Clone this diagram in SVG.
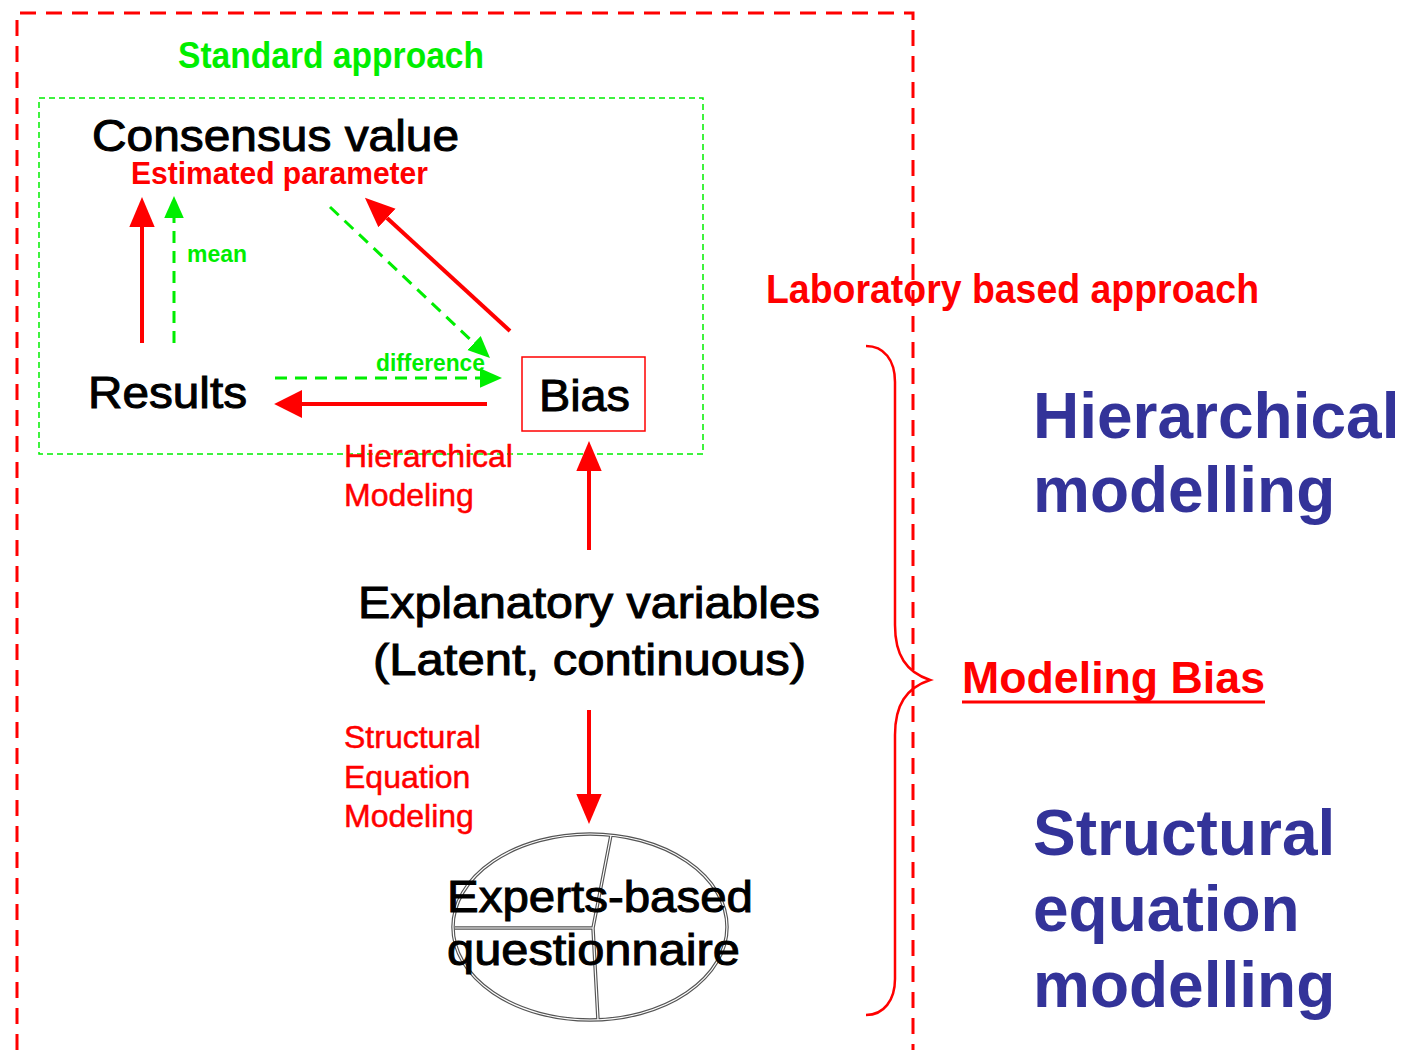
<svg xmlns="http://www.w3.org/2000/svg" width="1405" height="1050" viewBox="0 0 1405 1050">
<style>
  .red { fill: #ff0000; }
  .lbl { stroke: #ff0000; stroke-width: 0.5; }
  .green { fill: #00ee00; }
  .blk { fill: #000; stroke: #000; stroke-width: 1; }
  .blue { fill: #333399; font-family: "Liberation Sans", Arial, sans-serif; font-weight: bold; font-size: 64px; }
  .sans { font-family: "Liberation Sans", Arial, sans-serif; }
  .narrow { font-family: "Liberation Sans", Arial, sans-serif; font-weight: bold; }
  .rline { stroke: #ff0000; fill: none; stroke-width: 4; }
  .gline { stroke: #00ee00; fill: none; stroke-width: 3; stroke-dasharray: 12 8; }
  .dbl-out { fill: none; stroke: #555; stroke-width: 3.5; }
  .dbl-in { fill: none; stroke: #fff; stroke-width: 1.2; }
</style>
<defs>
  <marker id="rh" markerUnits="userSpaceOnUse" markerWidth="30" markerHeight="30" viewBox="0 0 26 24" refX="0" refY="12" orient="auto">
    <path d="M0,1 L26,12 L0,23 z" fill="#ff0000"/>
  </marker>
  <marker id="rhL" markerUnits="userSpaceOnUse" markerWidth="30" markerHeight="30" viewBox="0 0 26 28" refX="0" refY="14" orient="auto">
    <path d="M0,1 L26,14 L0,27 z" fill="#ff0000"/>
  </marker>
  <marker id="gh" markerUnits="userSpaceOnUse" markerWidth="22" markerHeight="22" viewBox="0 0 18 18" refX="0" refY="9" orient="auto">
    <path d="M0,1 L18,9 L0,17 z" fill="#00ee00"/>
  </marker>
</defs>
<rect width="1405" height="1050" fill="#fff"/>

<!-- containers -->
<g id="laboratory-frame">
  <path d="M17,1050 V13 H913 V1050" fill="none" stroke="#ff0000" stroke-width="3" stroke-dasharray="16 10"/>
  <text class="narrow red" x="766" y="303" font-size="40" textLength="493" lengthAdjust="spacingAndGlyphs">Laboratory based approach</text>
</g>
<g id="standard-frame">
  <rect x="39" y="98" width="664" height="356" fill="none" stroke="#00ee00" stroke-width="1.5" stroke-dasharray="6 4"/>
  <text class="narrow green" x="178" y="68" font-size="36" textLength="306" lengthAdjust="spacingAndGlyphs">Standard approach</text>
</g>

<!-- connectors -->
<g id="connectors">
  <line class="rline" x1="142" y1="343" x2="142" y2="227" marker-end="url(#rh)"/>
  <line class="gline" x1="174" y1="343" x2="174" y2="218" marker-end="url(#gh)"/>
  <text class="narrow green" x="187" y="262" font-size="23" textLength="60" lengthAdjust="spacingAndGlyphs">mean</text>
  <line class="gline" x1="330" y1="207" x2="474" y2="343" marker-end="url(#gh)"/>
  <line class="rline" x1="510" y1="331" x2="387" y2="218" marker-end="url(#rh)"/>
  <line class="gline" x1="275" y1="378" x2="480" y2="378" marker-end="url(#gh)"/>
  <text class="narrow green" x="376" y="371" font-size="23" textLength="109" lengthAdjust="spacingAndGlyphs">difference</text>
  <line class="rline" stroke-width="6" x1="487" y1="404" x2="302" y2="404" marker-end="url(#rhL)"/>
  <line class="rline" x1="589" y1="550" x2="589" y2="471" marker-end="url(#rh)"/>
  <text class="sans red lbl" font-size="32"><tspan x="344" y="467">Hierarchical</tspan><tspan x="344" y="506">Modeling</tspan></text>
  <line class="rline" x1="589" y1="710" x2="589" y2="794" marker-end="url(#rh)"/>
  <text class="sans red lbl" font-size="32"><tspan x="344" y="748">Structural</tspan><tspan x="344" y="788">Equation</tspan><tspan x="344" y="827">Modeling</tspan></text>
</g>

<!-- nodes -->
<g id="consensus">
  <text class="sans blk" x="92" y="151" font-size="44" textLength="367" lengthAdjust="spacingAndGlyphs">Consensus value</text>
  <text class="narrow red" x="131" y="184" font-size="32" textLength="297" lengthAdjust="spacingAndGlyphs">Estimated parameter</text>
</g>
<g id="results">
  <text class="sans blk" x="88" y="408" font-size="45" textLength="159" lengthAdjust="spacingAndGlyphs">Results</text>
</g>
<g id="bias">
  <rect x="522" y="357" width="123" height="74" fill="none" stroke="#ff0000" stroke-width="1.5"/>
  <text class="sans blk" x="539" y="411" font-size="45" textLength="91" lengthAdjust="spacingAndGlyphs">Bias</text>
</g>
<g id="explanatory">
  <text class="sans blk" x="358" y="618" font-size="45" textLength="462" lengthAdjust="spacingAndGlyphs">Explanatory variables</text>
  <text class="sans blk" x="373" y="675" font-size="45" textLength="433" lengthAdjust="spacingAndGlyphs">(Latent, continuous)</text>
</g>
<g id="questionnaire">
  <g>
    <ellipse class="dbl-out" cx="590" cy="927" rx="137" ry="93"/>
    <path class="dbl-out" d="M611,835 L593,928 L598,1020 M455,928 H593"/>
    <ellipse class="dbl-in" cx="590" cy="927" rx="137" ry="93"/>
    <path class="dbl-in" d="M611,835 L593,928 L598,1020 M455,928 H593"/>
  </g>
  <text class="sans blk" x="447" y="912" font-size="45" textLength="306" lengthAdjust="spacingAndGlyphs">Experts-based</text>
  <text class="sans blk" x="447" y="965" font-size="45" textLength="293" lengthAdjust="spacingAndGlyphs">questionnaire</text>
</g>

<g id="brace">
  <path d="M866,346 C884,346 895,360 895,382 L895,625 C895,655 906,672 930,680 C906,688 895,705 895,735 L895,979 C895,1000 884,1015 866,1015" fill="none" stroke="#ff0000" stroke-width="2.5"/>
</g>
<g id="modeling-bias">
  <text class="sans red" x="962" y="693" font-size="44" font-weight="bold" textLength="303" lengthAdjust="spacingAndGlyphs">Modeling Bias</text>
  <line x1="962" y1="702" x2="1265" y2="702" stroke="#ff0000" stroke-width="3"/>
</g>
<g id="hierarchical-modelling">
  <text class="blue"><tspan x="1033" y="438">Hierarchical</tspan><tspan x="1033" y="512">modelling</tspan></text>
</g>
<g id="sem">
  <text class="blue"><tspan x="1033" y="855">Structural</tspan><tspan x="1033" y="931">equation</tspan><tspan x="1033" y="1007">modelling</tspan></text>
</g>
</svg>
